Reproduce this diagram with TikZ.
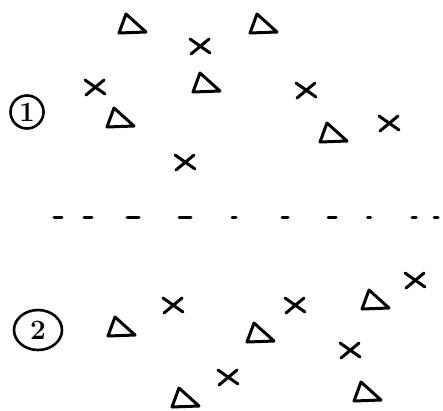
\documentclass[tikz,border=0pt]{standalone}
\usepackage{fontspec}
\usepackage{tikz}
\usetikzlibrary{calc,shapes.geometric}

\tikzset{
  mark line/.style={line width=3pt,line cap=round,line join=round},
  setlabel/.style={draw,circle,line width=2.6pt,inner sep=0pt,minimum size=33pt,
    font=\fontsize{28}{28}\selectfont\bfseries}
}
% hand-drawn triangle and cross
\newcommand{\tri}[2]{\draw[mark line] (#1-6,#2-10) -- (#1-13,#2+9) -- (#1+14,#2+8) -- cycle;}
\newcommand{\crs}[2]{\draw[mark line] (#1-10,#2-7) -- (#1+10,#2+7) (#1-9,#2+8) -- (#1+9,#2-7);}

\begin{document}
\begin{tikzpicture}[x=1pt,y=-1pt]
  \useasboundingbox (0,0) rectangle (443,410);

  % set 1
  \node[setlabel] (one) at (27,112) {1};
  \foreach \x/\y in {132/24, 263/24, 206/83, 120/118, 333/133}{
    \tri{\x}{\y}
  }
  \foreach \x/\y in {200/46, 95/87, 306/90, 389/123, 185/162}{
    \crs{\x}{\y}
  }

  % separator
  \foreach \x/\l in {58/8, 88/8, 133/12, 185/12, 234/4, 285/6, 332/8, 369/3, 414/4, 436/4}{
    \draw[mark line] (\x-\l/2,217) -- (\x+\l/2,217);
  }

  % set 2
  \node[setlabel,ellipse,minimum width=48pt,minimum height=40pt] (two) at (38,330) {2};
  \foreach \x/\y in {121/327, 260/333, 375/300, 185/398, 367/392}{
    \tri{\x}{\y}
  }
  \foreach \x/\y in {173/305, 295/305, 415/280, 350/350, 228/377}{
    \crs{\x}{\y}
  }
\end{tikzpicture}
\end{document}
